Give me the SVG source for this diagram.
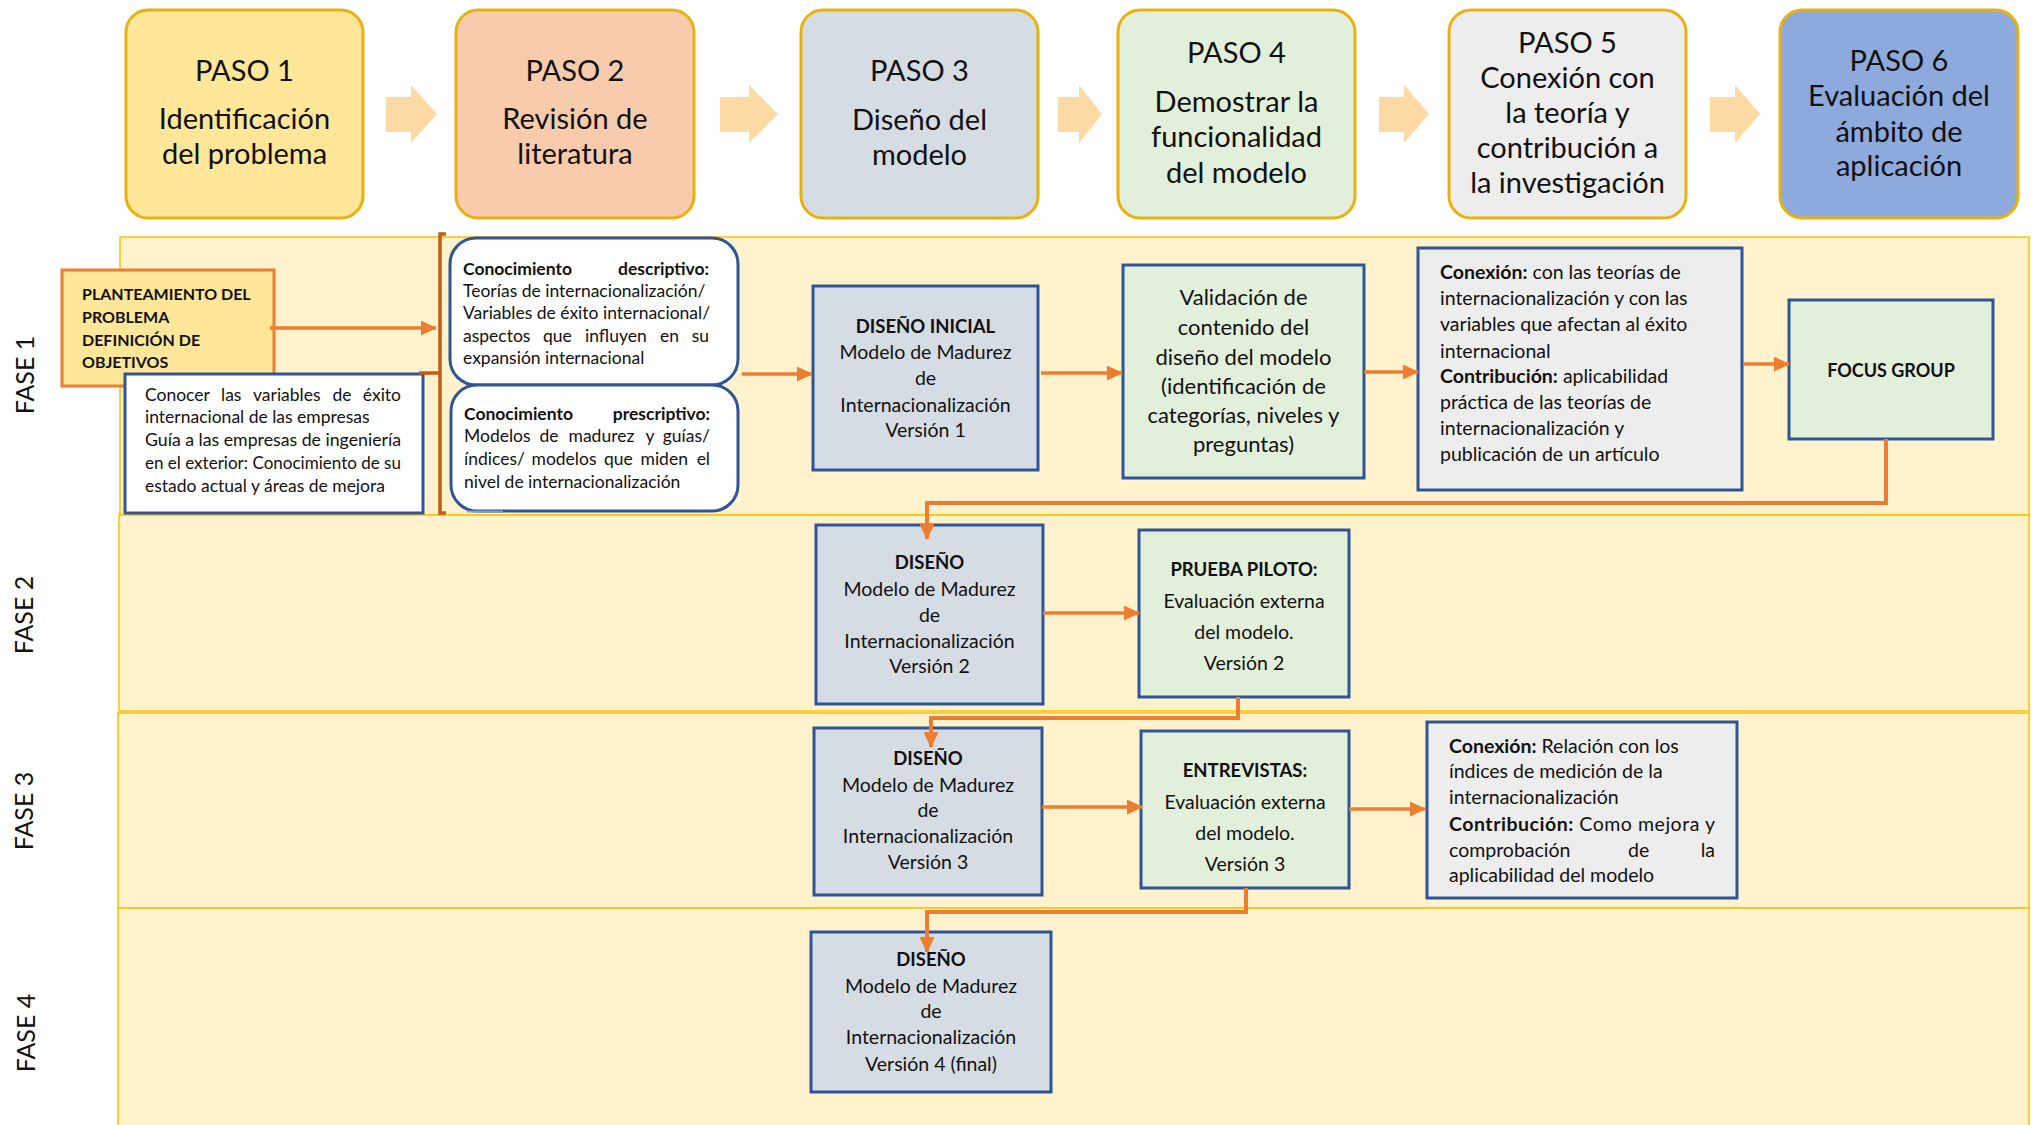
<svg xmlns="http://www.w3.org/2000/svg" width="2033" height="1125" viewBox="0 0 2033 1125">
  <defs>
    <marker id="tri" viewBox="0 0 16 15" refX="15" refY="7.5" markerWidth="16" markerHeight="15" markerUnits="userSpaceOnUse" orient="auto">
      <path d="M0,0 L16,7.5 L0,15 z" fill="#ED7D31"/>
    </marker>
    <style>
      text { font-family: Lato, "Liberation Sans", sans-serif; fill: #111; }
      .paso { stroke: #E9B10F; stroke-width: 3; }
      .paso-t { font-size: 29px; text-anchor: middle; }
      .step { fill: #FDD9A4; }
      .band { fill: #FFF2CC; stroke: #FFC000; stroke-width: 1.5; }
      .fase { font-size: 25px; text-anchor: middle; }
      .box { stroke: #2F5597; stroke-width: 3; }
      .blue { fill: #D6DCE4; }
      .green { fill: #E2EFDA; }
      .grey { fill: #EDEDED; }
      .white { fill: #FFFFFF; }
      .mid { text-anchor: middle; }
      .end { text-anchor: end; }
      .b { font-weight: bold; }
      .t { font-size: 18.5px; font-weight: bold; }
      .f19 { font-size: 19.5px; }
      .f175 { font-size: 17.5px; }
      .con { fill: none; stroke: #ED7D31; stroke-width: 3.5; marker-end: url(#tri); }
      .con4 { fill: none; stroke: #ED7D31; stroke-width: 4; marker-end: url(#tri); }
    </style>
  </defs>

  <rect width="2033" height="1125" fill="#FFFFFF"/>

  <!-- phase bands -->
  <g id="bands">
    <rect class="band" x="120" y="237" width="1909" height="278"/>
    <rect class="band" x="119" y="515" width="1910" height="196"/>
    <rect class="band" x="118" y="713" width="1911" height="195"/>
    <rect class="band" x="118" y="908" width="1911" height="220"/>
    <text class="fase" transform="translate(34,375) rotate(-90)">FASE 1</text>
    <text class="fase" transform="translate(33,615) rotate(-90)">FASE 2</text>
    <text class="fase" transform="translate(33,811) rotate(-90)">FASE 3</text>
    <text class="fase" transform="translate(35,1033) rotate(-90)">FASE 4</text>
  </g>

  <!-- step headers -->
  <g id="paso1">
    <rect class="paso" x="126" y="10" width="237" height="208" rx="22" fill="#FFE699"/>
    <text class="paso-t" x="244.5" y="81">PASO 1</text>
    <text class="paso-t" x="244.5" y="129">Identificación</text>
    <text class="paso-t" x="244.5" y="164">del problema</text>
  </g>
  <g id="paso2">
    <rect class="paso" x="456" y="10" width="238" height="208" rx="22" fill="#F8CBAD"/>
    <text class="paso-t" x="575" y="81">PASO 2</text>
    <text class="paso-t" x="575" y="129">Revisión de</text>
    <text class="paso-t" x="575" y="164">literatura</text>
  </g>
  <g id="paso3">
    <rect class="paso" x="801" y="10" width="237" height="208" rx="22" fill="#D6DCE4"/>
    <text class="paso-t" x="919.5" y="81">PASO 3</text>
    <text class="paso-t" x="919.5" y="130">Diseño del</text>
    <text class="paso-t" x="919.5" y="165">modelo</text>
  </g>
  <g id="paso4">
    <rect class="paso" x="1118" y="10" width="237" height="208" rx="22" fill="#E2EFDA"/>
    <text class="paso-t" x="1236.5" y="63">PASO 4</text>
    <text class="paso-t" x="1236.5" y="112">Demostrar la</text>
    <text class="paso-t" x="1236.5" y="147">funcionalidad</text>
    <text class="paso-t" x="1236.5" y="183">del modelo</text>
  </g>
  <g id="paso5">
    <rect class="paso" x="1449" y="10" width="237" height="208" rx="22" fill="#EDEDED"/>
    <text class="paso-t" x="1567.5" y="53">PASO 5</text>
    <text class="paso-t" x="1567.5" y="88">Conexión con</text>
    <text class="paso-t" x="1567.5" y="123">la teoría y</text>
    <text class="paso-t" x="1567.5" y="158">contribución a</text>
    <text class="paso-t" x="1567.5" y="193">la investigación</text>
  </g>
  <g id="paso6">
    <rect class="paso" x="1780" y="10" width="238" height="208" rx="22" fill="#8EA9DB"/>
    <text class="paso-t" x="1899" y="71">PASO 6</text>
    <text class="paso-t" x="1899" y="106">Evaluación del</text>
    <text class="paso-t" x="1899" y="142">ámbito de</text>
    <text class="paso-t" x="1899" y="176">aplicación</text>
  </g>

  <!-- block arrows between steps -->
  <g id="step-arrows">
    <polygon class="step" points="386,97 411,97 411,85 437,114 411,143 411,132 386,132"/>
    <polygon class="step" points="720,97 749,97 749,85 778,114 749,143 749,132 720,132"/>
    <polygon class="step" points="1058,97 1079,97 1079,85 1102,114 1079,143 1079,132 1058,132"/>
    <polygon class="step" points="1379,97 1404,97 1404,85 1429,114 1404,143 1404,132 1379,132"/>
    <polygon class="step" points="1710,97 1735,97 1735,85 1760,114 1735,143 1735,132 1710,132"/>
  </g>

  <!-- FASE 1 -->
  <g id="planteamiento">
    <rect x="62" y="270" width="212" height="116" fill="#FFE699" stroke="#ED7D31" stroke-width="3"/>
    <text class="b" font-size="16" x="82" y="300">PLANTEAMIENTO DEL</text>
    <text class="b" font-size="16" x="82" y="323">PROBLEMA</text>
    <text class="b" font-size="16" x="82" y="346">DEFINICIÓN DE</text>
    <text class="b" font-size="16" x="82" y="368">OBJETIVOS</text>
  </g>
  <g id="objetivos">
    <rect class="box white" x="125" y="374" width="298" height="139" stroke-width="2.5"/>
    <g class="f175">
      <text x="145" y="401">Conocer</text>
      <text x="221" y="401">las</text>
      <text x="253" y="401">variables</text>
      <text x="332.5" y="401">de</text>
      <text class="end" x="401" y="401">éxito</text>
      <text x="145" y="423">internacional de las empresas</text>
      <text x="145" y="446" textLength="256" lengthAdjust="spacingAndGlyphs">Guía a las empresas de ingeniería</text>
      <text x="145" y="469" textLength="256" lengthAdjust="spacingAndGlyphs">en el exterior: Conocimiento de su</text>
      <text x="145" y="492">estado actual y áreas de mejora</text>
    </g>
  </g>
  <g id="descriptivo">
    <rect class="box white" x="450" y="238" width="288" height="147" rx="26" stroke-width="2.5"/>
    <g class="f175">
      <text class="b" x="463" y="275">Conocimiento</text>
      <text class="b end" x="709" y="275">descriptivo:</text>
      <text x="463" y="297">Teorías de internacionalización/</text>
      <text x="463" y="319">Variables de éxito internacional/</text>
      <text x="463" y="342">aspectos</text>
      <text x="543" y="342">que</text>
      <text x="585" y="342">influyen</text>
      <text x="660" y="342">en</text>
      <text class="end" x="709" y="342">su</text>
      <text x="463" y="364">expansión internacional</text>
    </g>
  </g>
  <g id="prescriptivo">
    <rect class="box white" x="451" y="385" width="287" height="126" rx="26" stroke-width="2.5"/>
    <path d="M467,511.5 H503" stroke="#7F9CC8" stroke-width="2"/>
    <g class="f175">
      <text class="b" x="464" y="420">Conocimiento</text>
      <text class="b end" x="710" y="420">prescriptivo:</text>
      <text x="464" y="442">Modelos</text>
      <text x="539.5" y="442">de</text>
      <text x="568.5" y="442">madurez</text>
      <text x="645.5" y="442">y</text>
      <text class="end" x="710" y="442">guías/</text>
      <text x="464" y="465">índices/</text>
      <text x="531.5" y="465">modelos</text>
      <text x="604" y="465">que</text>
      <text x="640.5" y="465">miden</text>
      <text class="end" x="710" y="465">el</text>
      <text x="464" y="488">nivel de internacionalización</text>
    </g>
  </g>
  <g id="llave">
    <path d="M446,234 H440 V513 H446 M440,373 H419" fill="none" stroke="#C55A11" stroke-width="3.5"/>
  </g>
  <g id="diseno-inicial">
    <rect class="box blue" x="813" y="286" width="225" height="184"/>
    <g class="f19 mid">
      <text class="t" x="925.5" y="333">DISEÑO INICIAL</text>
      <text x="925.5" y="359">Modelo de Madurez</text>
      <text x="925.5" y="385">de</text>
      <text x="925.5" y="412">Internacionalización</text>
      <text x="925.5" y="437">Versión 1</text>
    </g>
  </g>
  <g id="validacion">
    <rect class="box green" x="1123" y="265" width="241" height="213"/>
    <g class="mid" font-size="22">
      <text x="1243.5" y="305">Validación de</text>
      <text x="1243.5" y="335">contenido del</text>
      <text x="1243.5" y="365">diseño del modelo</text>
      <text x="1243.5" y="394">(identificación de</text>
      <text x="1243.5" y="423">categorías, niveles y</text>
      <text x="1243.5" y="452">preguntas)</text>
    </g>
  </g>
  <g id="conexion-1">
    <rect class="box grey" x="1418" y="248" width="324" height="242"/>
    <g class="f19">
      <text x="1440" y="279"><tspan class="b">Conexión:</tspan> con las teorías de</text>
      <text x="1440" y="305">internacionalización y con las</text>
      <text x="1440" y="331">variables que afectan al éxito</text>
      <text x="1440" y="358">internacional</text>
      <text x="1440" y="383"><tspan class="b">Contribución:</tspan> aplicabilidad</text>
      <text x="1440" y="409">práctica de las teorías de</text>
      <text x="1440" y="435">internacionalización y</text>
      <text x="1440" y="461">publicación de un artículo</text>
    </g>
  </g>
  <g id="focus-group">
    <rect class="box green" x="1789" y="300" width="204" height="139"/>
    <text class="b mid" font-size="18" x="1891" y="377">FOCUS GROUP</text>
  </g>

  <!-- FASE 2 -->
  <g id="diseno-v2">
    <rect class="box blue" x="816" y="525" width="227" height="179"/>
    <g class="f19 mid">
      <text class="t" x="929.5" y="569">DISEÑO</text>
      <text x="929.5" y="596">Modelo de Madurez</text>
      <text x="929.5" y="622">de</text>
      <text x="929.5" y="648">Internacionalización</text>
      <text x="929.5" y="673">Versión 2</text>
    </g>
  </g>
  <g id="prueba-piloto">
    <rect class="box green" x="1139" y="530" width="210" height="167"/>
    <g class="f19 mid">
      <text class="t" x="1244" y="576">PRUEBA PILOTO:</text>
      <text x="1244" y="608">Evaluación externa</text>
      <text x="1244" y="639">del modelo.</text>
      <text x="1244" y="670">Versión 2</text>
    </g>
  </g>

  <!-- FASE 3 -->
  <g id="diseno-v3">
    <rect class="box blue" x="814" y="728" width="228" height="167"/>
    <g class="f19 mid">
      <text class="t" x="928" y="765">DISEÑO</text>
      <text x="928" y="792">Modelo de Madurez</text>
      <text x="928" y="817">de</text>
      <text x="928" y="843">Internacionalización</text>
      <text x="928" y="869">Versión 3</text>
    </g>
  </g>
  <g id="entrevistas">
    <rect class="box green" x="1141" y="731" width="208" height="157"/>
    <g class="f19 mid">
      <text class="t" x="1245" y="777">ENTREVISTAS:</text>
      <text x="1245" y="809">Evaluación externa</text>
      <text x="1245" y="840">del modelo.</text>
      <text x="1245" y="871">Versión 3</text>
    </g>
  </g>
  <g id="conexion-2">
    <rect class="box grey" x="1427" y="722" width="310" height="176"/>
    <g class="f19">
      <text x="1449" y="753"><tspan class="b">Conexión:</tspan> Relación con los</text>
      <text x="1449" y="778">índices de medición de la</text>
      <text x="1449" y="804">internacionalización</text>
      <text x="1449" y="831" textLength="266" lengthAdjust="spacing"><tspan class="b">Contribución:</tspan> Como mejora y</text>
      <text x="1449" y="857">comprobación</text>
      <text x="1628" y="857">de</text>
      <text class="end" x="1715" y="857">la</text>
      <text x="1449" y="882">aplicabilidad del modelo</text>
    </g>
  </g>

  <!-- FASE 4 -->
  <g id="diseno-v4">
    <rect class="box blue" x="811" y="932" width="240" height="160"/>
    <g class="f19 mid">
      <text class="t" x="931" y="966">DISEÑO</text>
      <text x="931" y="993">Modelo de Madurez</text>
      <text x="931" y="1018">de</text>
      <text x="931" y="1044">Internacionalización</text>
      <text x="931" y="1071">Versión 4 (final)</text>
    </g>
  </g>

  <!-- connectors -->
  <g id="connectors">
    <path class="con" d="M270,328 H436"/>
    <path class="con" d="M742,374 H812"/>
    <path class="con" d="M1041,373 H1122"/>
    <path class="con" d="M1364,372 H1418"/>
    <path class="con" d="M1743,364 H1789"/>
    <path class="con4" d="M1886,439 V503 H927 V539"/>
    <path class="con" d="M1043,613 H1139"/>
    <path class="con4" d="M1238,697 V718 H931 V747"/>
    <path class="con" d="M1042,807 H1142"/>
    <path class="con" d="M1349,809 H1425"/>
    <path class="con4" d="M1246,888 V912 H927 V952"/>
  </g>
</svg>
